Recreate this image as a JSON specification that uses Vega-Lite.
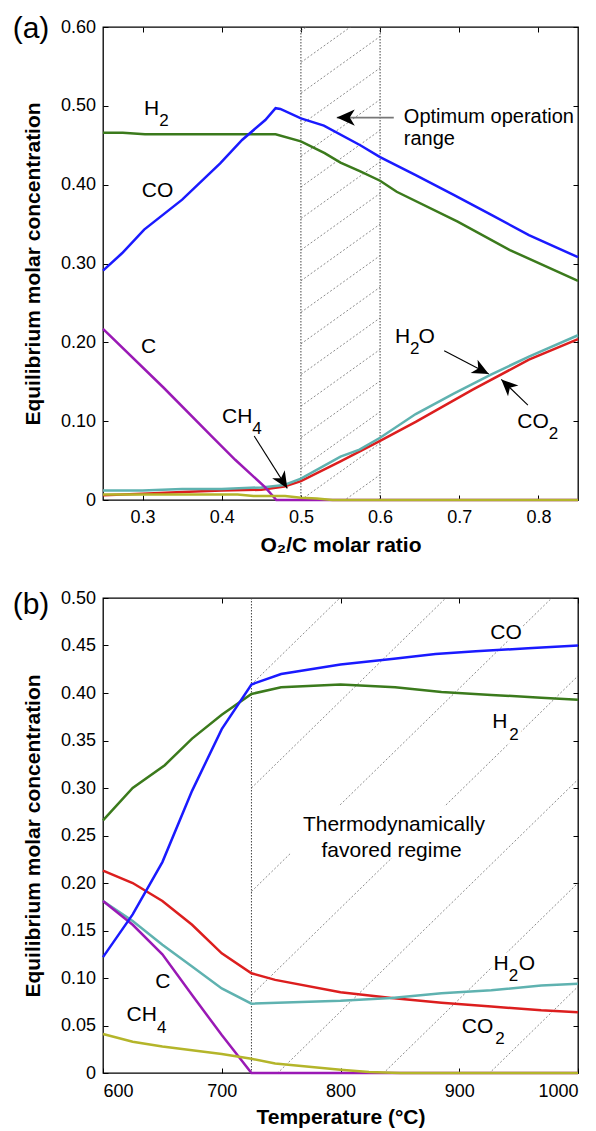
{
  "$schema": "https://vega.github.io/schema/vega-lite/v6.json",
  "background": "white",
  "padding": {"left": 12, "top": 13, "right": 0, "bottom": 0},
  "spacing": 32,
  "config": {
    "font": "Liberation Sans",
    "view": {"stroke": "black", "strokeWidth": 1.3},
    "axis": {"grid": false, "domain": false, "labelFontSize": 18, "titleFontSize": 21, "titleFontWeight": "bold", "labelColor": "black", "titleColor": "black", "tickColor": "black", "tickWidth": 1, "labelFont": "Liberation Sans", "titleFont": "Liberation Sans"}
  },
  "datasets": {
    "a": [
      {"x": 0.25, "y": 0.006, "s": "CO2"}, {"x": 0.3, "y": 0.008, "s": "CO2"}, {"x": 0.35, "y": 0.010, "s": "CO2"}, {"x": 0.4, "y": 0.012, "s": "CO2"}, {"x": 0.45, "y": 0.013, "s": "CO2"}, {"x": 0.479, "y": 0.017, "s": "CO2"}, {"x": 0.5, "y": 0.024, "s": "CO2"}, {"x": 0.55, "y": 0.049, "s": "CO2"}, {"x": 0.6, "y": 0.075, "s": "CO2"}, {"x": 0.645, "y": 0.099, "s": "CO2"}, {"x": 0.717, "y": 0.140, "s": "CO2"}, {"x": 0.788, "y": 0.178, "s": "CO2"}, {"x": 0.85, "y": 0.204, "s": "CO2"},
      {"x": 0.25, "y": 0.012, "s": "H2O"}, {"x": 0.3, "y": 0.012, "s": "H2O"}, {"x": 0.35, "y": 0.014, "s": "H2O"}, {"x": 0.4, "y": 0.014, "s": "H2O"}, {"x": 0.45, "y": 0.016, "s": "H2O"}, {"x": 0.479, "y": 0.019, "s": "H2O"}, {"x": 0.5, "y": 0.027, "s": "H2O"}, {"x": 0.55, "y": 0.055, "s": "H2O"}, {"x": 0.574, "y": 0.064, "s": "H2O"}, {"x": 0.6, "y": 0.079, "s": "H2O"}, {"x": 0.645, "y": 0.109, "s": "H2O"}, {"x": 0.693, "y": 0.135, "s": "H2O"}, {"x": 0.74, "y": 0.159, "s": "H2O"}, {"x": 0.788, "y": 0.182, "s": "H2O"}, {"x": 0.85, "y": 0.209, "s": "H2O"},
      {"x": 0.25, "y": 0.217, "s": "C"}, {"x": 0.326, "y": 0.143, "s": "C"}, {"x": 0.388, "y": 0.080, "s": "C"}, {"x": 0.417, "y": 0.051, "s": "C"}, {"x": 0.455, "y": 0.016, "s": "C"}, {"x": 0.469, "y": 0.0, "s": "C"}, {"x": 0.5, "y": 0.0, "s": "C"}, {"x": 0.6, "y": 0.0, "s": "C"}, {"x": 0.85, "y": 0.0, "s": "C"},
      {"x": 0.25, "y": 0.007, "s": "CH4"}, {"x": 0.35, "y": 0.007, "s": "CH4"}, {"x": 0.42, "y": 0.007, "s": "CH4"}, {"x": 0.44, "y": 0.005, "s": "CH4"}, {"x": 0.48, "y": 0.005, "s": "CH4"}, {"x": 0.5, "y": 0.003, "s": "CH4"}, {"x": 0.52, "y": 0.002, "s": "CH4"}, {"x": 0.54, "y": 0.0, "s": "CH4"}, {"x": 0.6, "y": 0.0, "s": "CH4"}, {"x": 0.85, "y": 0.0, "s": "CH4"},
      {"x": 0.25, "y": 0.466, "s": "H2"}, {"x": 0.275, "y": 0.466, "s": "H2"}, {"x": 0.303, "y": 0.464, "s": "H2"}, {"x": 0.468, "y": 0.464, "s": "H2"}, {"x": 0.5, "y": 0.455, "s": "H2"}, {"x": 0.53, "y": 0.440, "s": "H2"}, {"x": 0.55, "y": 0.428, "s": "H2"}, {"x": 0.575, "y": 0.417, "s": "H2"}, {"x": 0.6, "y": 0.405, "s": "H2"}, {"x": 0.621, "y": 0.391, "s": "H2"}, {"x": 0.698, "y": 0.353, "s": "H2"}, {"x": 0.764, "y": 0.317, "s": "H2"}, {"x": 0.85, "y": 0.278, "s": "H2"},
      {"x": 0.25, "y": 0.291, "s": "CO"}, {"x": 0.274, "y": 0.313, "s": "CO"}, {"x": 0.302, "y": 0.343, "s": "CO"}, {"x": 0.35, "y": 0.381, "s": "CO"}, {"x": 0.398, "y": 0.427, "s": "CO"}, {"x": 0.426, "y": 0.457, "s": "CO"}, {"x": 0.455, "y": 0.482, "s": "CO"}, {"x": 0.468, "y": 0.497, "s": "CO"}, {"x": 0.474, "y": 0.496, "s": "CO"}, {"x": 0.5, "y": 0.484, "s": "CO"}, {"x": 0.529, "y": 0.475, "s": "CO"}, {"x": 0.575, "y": 0.450, "s": "CO"}, {"x": 0.6, "y": 0.435, "s": "CO"}, {"x": 0.645, "y": 0.412, "s": "CO"}, {"x": 0.693, "y": 0.387, "s": "CO"}, {"x": 0.74, "y": 0.362, "s": "CO"}, {"x": 0.788, "y": 0.336, "s": "CO"}, {"x": 0.85, "y": 0.308, "s": "CO"}
    ],
    "b": [
      {"x": 600, "y": 0.213, "s": "CO2"}, {"x": 625, "y": 0.200, "s": "CO2"}, {"x": 650, "y": 0.181, "s": "CO2"}, {"x": 675, "y": 0.156, "s": "CO2"}, {"x": 700, "y": 0.126, "s": "CO2"}, {"x": 725, "y": 0.105, "s": "CO2"}, {"x": 745, "y": 0.098, "s": "CO2"}, {"x": 800, "y": 0.085, "s": "CO2"}, {"x": 843, "y": 0.079, "s": "CO2"}, {"x": 885, "y": 0.074, "s": "CO2"}, {"x": 927, "y": 0.070, "s": "CO2"}, {"x": 969, "y": 0.066, "s": "CO2"}, {"x": 1000, "y": 0.064, "s": "CO2"},
      {"x": 600, "y": 0.181, "s": "H2O"}, {"x": 625, "y": 0.160, "s": "H2O"}, {"x": 650, "y": 0.135, "s": "H2O"}, {"x": 675, "y": 0.112, "s": "H2O"}, {"x": 700, "y": 0.089, "s": "H2O"}, {"x": 725, "y": 0.073, "s": "H2O"}, {"x": 800, "y": 0.076, "s": "H2O"}, {"x": 843, "y": 0.079, "s": "H2O"}, {"x": 885, "y": 0.084, "s": "H2O"}, {"x": 927, "y": 0.087, "s": "H2O"}, {"x": 969, "y": 0.092, "s": "H2O"}, {"x": 1000, "y": 0.094, "s": "H2O"},
      {"x": 600, "y": 0.181, "s": "C"}, {"x": 625, "y": 0.156, "s": "C"}, {"x": 650, "y": 0.125, "s": "C"}, {"x": 675, "y": 0.082, "s": "C"}, {"x": 700, "y": 0.040, "s": "C"}, {"x": 725, "y": 0.0, "s": "C"}, {"x": 800, "y": 0.0, "s": "C"}, {"x": 1000, "y": 0.0, "s": "C"},
      {"x": 600, "y": 0.041, "s": "CH4"}, {"x": 625, "y": 0.033, "s": "CH4"}, {"x": 650, "y": 0.028, "s": "CH4"}, {"x": 675, "y": 0.024, "s": "CH4"}, {"x": 700, "y": 0.020, "s": "CH4"}, {"x": 725, "y": 0.015, "s": "CH4"}, {"x": 745, "y": 0.010, "s": "CH4"}, {"x": 800, "y": 0.0035, "s": "CH4"}, {"x": 824, "y": 0.001, "s": "CH4"}, {"x": 850, "y": 0.0, "s": "CH4"}, {"x": 1000, "y": 0.0, "s": "CH4"},
      {"x": 600, "y": 0.266, "s": "H2"}, {"x": 625, "y": 0.300, "s": "H2"}, {"x": 652, "y": 0.324, "s": "H2"}, {"x": 675, "y": 0.352, "s": "H2"}, {"x": 700, "y": 0.377, "s": "H2"}, {"x": 725, "y": 0.399, "s": "H2"}, {"x": 750, "y": 0.406, "s": "H2"}, {"x": 800, "y": 0.409, "s": "H2"}, {"x": 846, "y": 0.406, "s": "H2"}, {"x": 885, "y": 0.401, "s": "H2"}, {"x": 927, "y": 0.398, "s": "H2"}, {"x": 969, "y": 0.395, "s": "H2"}, {"x": 1000, "y": 0.393, "s": "H2"},
      {"x": 600, "y": 0.122, "s": "CO"}, {"x": 625, "y": 0.167, "s": "CO"}, {"x": 650, "y": 0.222, "s": "CO"}, {"x": 675, "y": 0.297, "s": "CO"}, {"x": 700, "y": 0.362, "s": "CO"}, {"x": 725, "y": 0.409, "s": "CO"}, {"x": 750, "y": 0.420, "s": "CO"}, {"x": 800, "y": 0.430, "s": "CO"}, {"x": 845, "y": 0.436, "s": "CO"}, {"x": 880, "y": 0.441, "s": "CO"}, {"x": 914, "y": 0.444, "s": "CO"}, {"x": 958, "y": 0.447, "s": "CO"}, {"x": 1000, "y": 0.450, "s": "CO"}
    ],
    "hatchA": [
      {"x": 0.5, "y": 0.595, "x2": 0.6, "y2": 0.667}, {"x": 0.5, "y": 0.555, "x2": 0.6, "y2": 0.627}, {"x": 0.5, "y": 0.516, "x2": 0.6, "y2": 0.588}, {"x": 0.5, "y": 0.476, "x2": 0.6, "y2": 0.548}, {"x": 0.5, "y": 0.436, "x2": 0.6, "y2": 0.508}, {"x": 0.5, "y": 0.397, "x2": 0.6, "y2": 0.469}, {"x": 0.5, "y": 0.357, "x2": 0.6, "y2": 0.429}, {"x": 0.5, "y": 0.317, "x2": 0.6, "y2": 0.389}, {"x": 0.5, "y": 0.278, "x2": 0.6, "y2": 0.350}, {"x": 0.5, "y": 0.238, "x2": 0.6, "y2": 0.310}, {"x": 0.5, "y": 0.198, "x2": 0.6, "y2": 0.270}, {"x": 0.5, "y": 0.159, "x2": 0.6, "y2": 0.231}, {"x": 0.5, "y": 0.119, "x2": 0.6, "y2": 0.191}, {"x": 0.5, "y": 0.079, "x2": 0.6, "y2": 0.151}, {"x": 0.5, "y": 0.040, "x2": 0.6, "y2": 0.112}, {"x": 0.5, "y": 0.000, "x2": 0.6, "y2": 0.072}, {"x": 0.5, "y": -0.040, "x2": 0.6, "y2": 0.032}
    ],
    "hatchB": [
      {"x": 725, "y": 0.409, "x2": 1000, "y2": 0.745}, {"x": 725, "y": 0.300, "x2": 1000, "y2": 0.636}, {"x": 725, "y": 0.191, "x2": 1000, "y2": 0.527}, {"x": 725, "y": 0.082, "x2": 1000, "y2": 0.418}, {"x": 725, "y": -0.027, "x2": 1000, "y2": 0.309}, {"x": 725, "y": -0.136, "x2": 1000, "y2": 0.200}, {"x": 725, "y": -0.245, "x2": 1000, "y2": 0.091}
    ],
    "labA": [
      {"x": 0.3019, "y": 0.4965, "t": "H"}, {"x": 0.299, "y": 0.392, "t": "CO"}, {"x": 0.298, "y": 0.194, "t": "C"}, {"x": 0.4003, "y": 0.1056, "t": "CH"}, {"x": 0.6187, "y": 0.207, "t": "H"}, {"x": 0.6484, "y": 0.207, "t": "O"}, {"x": 0.7733, "y": 0.0993, "t": "CO"}
    ],
    "subA": [
      {"x": 0.3211, "y": 0.4807, "t": "2"}, {"x": 0.4386, "y": 0.0897, "t": "4"}, {"x": 0.6379, "y": 0.1911, "t": "2"}, {"x": 0.8130, "y": 0.0834, "t": "2"}
    ],
    "noteA": [
      {"x": 0.630, "y": 0.486, "t": "Optimum operation"}, {"x": 0.630, "y": 0.4585, "t": "range"}
    ],
    "arrA": [
      {"x": 0.441, "y": 0.0811, "x2": 0.4828, "y2": 0.0148}, {"x": 0.681, "y": 0.1893, "x2": 0.7373, "y2": 0.1597}, {"x": 0.7867, "y": 0.1204, "x2": 0.7531, "y2": 0.153}
    ],
    "labB": [
      {"x": 926.1, "y": 0.4635, "t": "CO"}, {"x": 927.8, "y": 0.3695, "t": "H"}, {"x": 928.9, "y": 0.1151, "t": "H"}, {"x": 950.0, "y": 0.1151, "t": "O"}, {"x": 902.2, "y": 0.0484, "t": "CO"}, {"x": 643.9, "y": 0.0958, "t": "C"}, {"x": 619.8, "y": 0.0606, "t": "CH"}
    ],
    "subB": [
      {"x": 942.2, "y": 0.3563, "t": "2"}, {"x": 941.6, "y": 0.1019, "t": "2"}, {"x": 930.3, "y": 0.0353, "t": "2"}, {"x": 645.5, "y": 0.0475, "t": "4"}
    ],
    "noteB": [
      {"x": 845, "y": 0.2614, "t": "Thermodynamically"}, {"x": 843, "y": 0.234, "t": "favored regime"}
    ]
  },
  "vconcat": [
    {
      "width": 475,
      "height": 473,
      "resolve": {"axis": {"x": "independent", "y": "independent"}},
      "layer": [
        {
          "data": {"name": "hatchA"},
          "mark": {"type": "rule", "clip": true, "color": "#6e6e6e", "strokeWidth": 0.8, "strokeDash": [2, 2]},
          "encoding": {
            "x": {"field": "x", "type": "quantitative", "scale": {"domain": [0.25, 0.85], "nice": false, "zero": false}, "axis": {"orient": "top", "values": [0.3, 0.4, 0.5, 0.6, 0.7, 0.8], "labels": false, "title": null, "tickSize": -5}},
            "y": {"field": "y", "type": "quantitative", "scale": {"domain": [0, 0.6], "nice": false}, "axis": {"orient": "right", "values": [0, 0.1, 0.2, 0.3, 0.4, 0.5, 0.6], "labels": false, "title": null, "tickSize": -5}},
            "x2": {"field": "x2"},
            "y2": {"field": "y2"}
          }
        },
        {
          "data": {"values": [{"x": 0.5}, {"x": 0.6}]},
          "mark": {"type": "rule", "color": "#444", "strokeWidth": 1, "strokeDash": [1.5, 1.5]},
          "encoding": {"x": {"field": "x", "type": "quantitative", "axis": null}}
        },
        {
          "data": {"name": "a"},
          "mark": {"type": "line", "strokeWidth": 2.5},
          "encoding": {
            "x": {"field": "x", "type": "quantitative", "axis": {"orient": "bottom", "values": [0.3, 0.4, 0.5, 0.6, 0.7, 0.8], "format": ".1f", "title": "O₂/C molar ratio", "tickSize": -5, "labelPadding": 13, "titlePadding": 8}},
            "y": {"field": "y", "type": "quantitative", "axis": {"orient": "left", "values": [0, 0.1, 0.2, 0.3, 0.4, 0.5, 0.6], "labelExpr": "datum.value == 0 ? '0' : format(datum.value, '.2f')", "title": "Equilibrium molar concentration", "tickSize": -5, "labelPadding": 12.5, "titlePadding": 17}},
            "color": {"field": "s", "type": "nominal", "legend": null, "scale": {"domain": ["CO2", "H2O", "C", "CH4", "H2", "CO"], "range": ["#dc1e1e", "#5fb2b0", "#9a19b5", "#b4b52a", "#3b7a1c", "#1a1aff"]}}
          }
        },
        {
          "data": {"name": "labA"},
          "mark": {"type": "text", "fontSize": 21, "align": "left", "baseline": "middle", "color": "black"},
          "encoding": {"x": {"field": "x", "type": "quantitative", "axis": null}, "y": {"field": "y", "type": "quantitative", "axis": null}, "text": {"field": "t"}}
        },
        {
          "data": {"name": "subA"},
          "mark": {"type": "text", "fontSize": 17, "align": "left", "baseline": "middle", "color": "black"},
          "encoding": {"x": {"field": "x", "type": "quantitative", "axis": null}, "y": {"field": "y", "type": "quantitative", "axis": null}, "text": {"field": "t"}}
        },
        {
          "data": {"name": "noteA"},
          "mark": {"type": "text", "fontSize": 20, "align": "left", "baseline": "middle", "color": "black"},
          "encoding": {"x": {"field": "x", "type": "quantitative", "axis": null}, "y": {"field": "y", "type": "quantitative", "axis": null}, "text": {"field": "t"}}
        },
        {
          "data": {"values": [{"x": 0.6173, "y": 0.4851, "x2": 0.5453, "y2": 0.4851}]},
          "mark": {"type": "rule", "color": "#777", "strokeWidth": 1.6},
          "encoding": {"x": {"field": "x", "type": "quantitative", "axis": null}, "y": {"field": "y", "type": "quantitative", "axis": null}, "x2": {"field": "x2"}, "y2": {"field": "y2"}}
        },
        {
          "data": {"name": "arrA"},
          "mark": {"type": "rule", "color": "black", "strokeWidth": 1.1},
          "encoding": {"x": {"field": "x", "type": "quantitative", "axis": null}, "y": {"field": "y", "type": "quantitative", "axis": null}, "x2": {"field": "x2"}, "y2": {"field": "y2"}}
        },
        {
          "data": {"values": [{}]},
          "mark": {"type": "point", "shape": "M0,0L0.45,1L0,0.72L-0.45,1Z", "filled": true, "color": "black", "opacity": 1, "size": 1300, "angle": 270},
          "encoding": {"x": {"datum": 0.5453, "type": "quantitative", "axis": null}, "y": {"datum": 0.4851, "type": "quantitative", "axis": null}}
        },
        {
          "data": {"values": [{}]},
          "mark": {"type": "point", "shape": "M0,0L0.45,1L0,0.72L-0.45,1Z", "filled": true, "color": "black", "opacity": 1, "size": 1100, "angle": 147.7},
          "encoding": {"x": {"datum": 0.4828, "type": "quantitative", "axis": null}, "y": {"datum": 0.0148, "type": "quantitative", "axis": null}}
        },
        {
          "data": {"values": [{}]},
          "mark": {"type": "point", "shape": "M0,0L0.45,1L0,0.72L-0.45,1Z", "filled": true, "color": "black", "opacity": 1, "size": 1100, "angle": 117.7},
          "encoding": {"x": {"datum": 0.7373, "type": "quantitative", "axis": null}, "y": {"datum": 0.1597, "type": "quantitative", "axis": null}}
        },
        {
          "data": {"values": [{}]},
          "mark": {"type": "point", "shape": "M0,0L0.45,1L0,0.72L-0.45,1Z", "filled": true, "color": "black", "opacity": 1, "size": 1100, "angle": 314},
          "encoding": {"x": {"datum": 0.7531, "type": "quantitative", "axis": null}, "y": {"datum": 0.153, "type": "quantitative", "axis": null}}
        },
        {
          "data": {"values": [{}]},
          "mark": {"type": "text", "text": "(a)", "fontSize": 30, "align": "center", "baseline": "middle", "dx": -72, "dy": 2, "color": "black"},
          "encoding": {"x": {"datum": 0.25, "type": "quantitative", "axis": null}, "y": {"datum": 0.6, "type": "quantitative", "axis": null}}
        }
      ]
    },
    {
      "width": 475,
      "height": 475,
      "resolve": {"axis": {"x": "independent", "y": "independent"}},
      "layer": [
        {
          "data": {"name": "hatchB"},
          "mark": {"type": "rule", "clip": true, "color": "#6e6e6e", "strokeWidth": 0.8, "strokeDash": [2, 2]},
          "encoding": {
            "x": {"field": "x", "type": "quantitative", "scale": {"domain": [600, 1000], "nice": false, "zero": false}, "axis": {"orient": "top", "values": [700, 800, 900, 1000], "labels": false, "title": null, "tickSize": -5}},
            "y": {"field": "y", "type": "quantitative", "scale": {"domain": [0, 0.5], "nice": false}, "axis": {"orient": "right", "values": [0, 0.05, 0.1, 0.15, 0.2, 0.25, 0.3, 0.35, 0.4, 0.45, 0.5], "labels": false, "title": null, "tickSize": -5}},
            "x2": {"field": "x2"},
            "y2": {"field": "y2"}
          }
        },
        {
          "data": {"values": [{"x1": 758, "x2": 932, "y1": 0.226, "y2": 0.281}]},
          "mark": {"type": "rect", "color": "white", "opacity": 1},
          "encoding": {"x": {"field": "x1", "type": "quantitative", "axis": null}, "x2": {"field": "x2"}, "y": {"field": "y1", "type": "quantitative", "axis": null}, "y2": {"field": "y2"}}
        },
        {
          "data": {"values": [{"x": 725}]},
          "mark": {"type": "rule", "color": "#444", "strokeWidth": 1, "strokeDash": [1.5, 1.5]},
          "encoding": {"x": {"field": "x", "type": "quantitative", "axis": null}}
        },
        {
          "data": {"name": "labB"},
          "mark": {"type": "text", "fontSize": 21, "align": "left", "baseline": "middle", "color": "white", "stroke": "white", "strokeWidth": 7},
          "encoding": {"x": {"field": "x", "type": "quantitative", "axis": null}, "y": {"field": "y", "type": "quantitative", "axis": null}, "text": {"field": "t"}}
        },
        {
          "data": {"name": "subB"},
          "mark": {"type": "text", "fontSize": 17, "align": "left", "baseline": "middle", "color": "white", "stroke": "white", "strokeWidth": 7},
          "encoding": {"x": {"field": "x", "type": "quantitative", "axis": null}, "y": {"field": "y", "type": "quantitative", "axis": null}, "text": {"field": "t"}}
        },
        {
          "data": {"name": "b"},
          "mark": {"type": "line", "strokeWidth": 2.5},
          "encoding": {
            "x": {"field": "x", "type": "quantitative", "axis": {"orient": "bottom", "values": [600, 700, 800, 900, 1000], "format": "d", "title": "Temperature (°C)", "tickSize": -5, "labelPadding": 14, "titlePadding": 6}},
            "y": {"field": "y", "type": "quantitative", "axis": {"orient": "left", "values": [0, 0.05, 0.1, 0.15, 0.2, 0.25, 0.3, 0.35, 0.4, 0.45, 0.5], "labelExpr": "datum.value == 0 ? '0' : format(datum.value, '.2f')", "title": "Equilibrium molar concentration", "tickSize": -5, "labelPadding": 12.5, "titlePadding": 17}},
            "color": {"field": "s", "type": "nominal", "legend": null, "scale": {"domain": ["CO2", "H2O", "C", "CH4", "H2", "CO"], "range": ["#dc1e1e", "#5fb2b0", "#9a19b5", "#b4b52a", "#3b7a1c", "#1a1aff"]}}
          }
        },
        {
          "data": {"name": "labB"},
          "mark": {"type": "text", "fontSize": 21, "align": "left", "baseline": "middle", "color": "black"},
          "encoding": {"x": {"field": "x", "type": "quantitative", "axis": null}, "y": {"field": "y", "type": "quantitative", "axis": null}, "text": {"field": "t"}}
        },
        {
          "data": {"name": "subB"},
          "mark": {"type": "text", "fontSize": 17, "align": "left", "baseline": "middle", "color": "black"},
          "encoding": {"x": {"field": "x", "type": "quantitative", "axis": null}, "y": {"field": "y", "type": "quantitative", "axis": null}, "text": {"field": "t"}}
        },
        {
          "data": {"name": "noteB"},
          "mark": {"type": "text", "fontSize": 21, "align": "center", "baseline": "middle", "color": "black"},
          "encoding": {"x": {"field": "x", "type": "quantitative", "axis": null}, "y": {"field": "y", "type": "quantitative", "axis": null}, "text": {"field": "t"}}
        },
        {
          "data": {"values": [{}]},
          "mark": {"type": "text", "text": "(b)", "fontSize": 30, "align": "center", "baseline": "middle", "dx": -72, "dy": 7, "color": "black"},
          "encoding": {"x": {"datum": 600, "type": "quantitative", "axis": null}, "y": {"datum": 0.5, "type": "quantitative", "axis": null}}
        }
      ]
    }
  ]
}
